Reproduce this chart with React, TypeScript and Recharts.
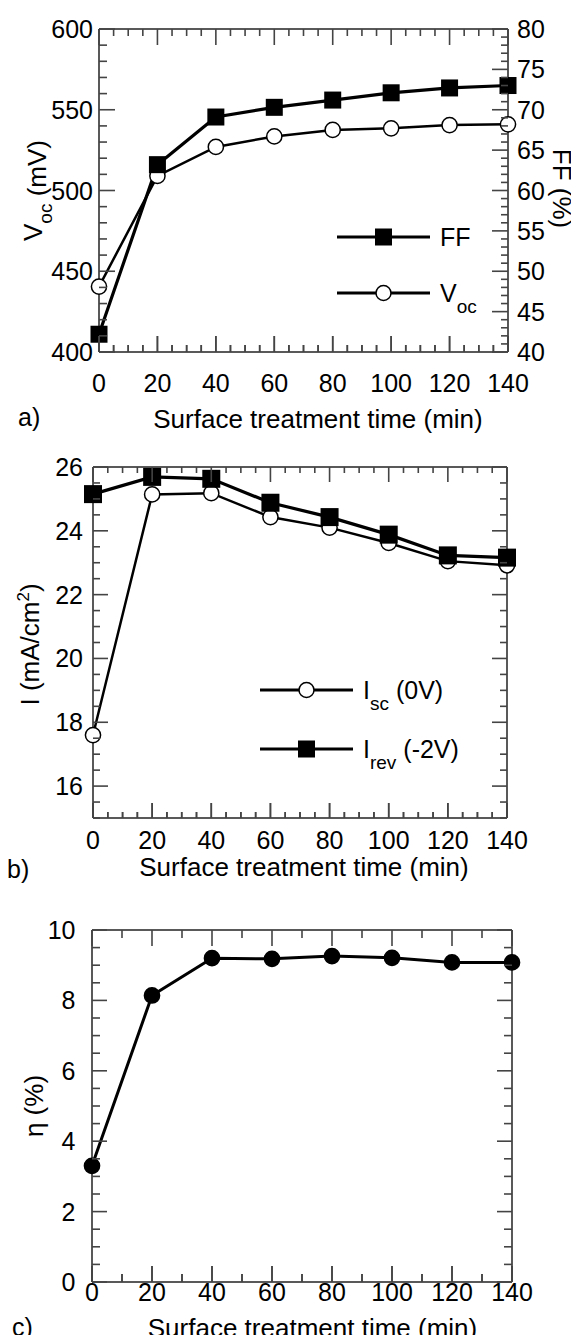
import React from 'react';
import { LineChart, Line, XAxis, YAxis, Legend } from 'recharts';

const FONT = '"Liberation Sans", Arial, Helvetica, sans-serif';
const TICK_FS = 25;
const TITLE_FS = 26;
const AXIS_COLOR = '#222';
const TICK_COLOR = '#444';

// ---------- data ----------
const times = [0, 20, 40, 60, 80, 100, 120, 140];
const vocMv = [440.5, 509, 527, 533.5, 537.5, 538.5, 540.5, 541];
const ffPct = [42.2, 63.2, 69.1, 70.3, 71.2, 72.1, 72.7, 73.0];
const iscCurrent = [17.6, 25.14, 25.18, 24.43, 24.1, 23.62, 23.05, 22.92];
const irevCurrent = [25.15, 25.69, 25.63, 24.88, 24.43, 23.88, 23.23, 23.16];
const etaPct = [3.3, 8.14, 9.2, 9.18, 9.26, 9.21, 9.08, 9.08];

// ---------- ticks ----------
const range = (a: number, b: number, s: number) => {
  const r: number[] = [];
  for (let v = a; v <= b + 1e-9; v += s) r.push(Math.round(v * 100) / 100);
  return r;
};
const xTicksFine = range(0, 140, 5);
const xTicksCoarse = range(0, 140, 10);
const vocTicks = range(400, 600, 10);
const ffTicks = range(40, 80, 1);
const currentTicks = range(15, 26, 0.5);
const etaTicks = range(0, 10, 0.5);

const dataA = times.map((t, i) => ({ t, voc: vocMv[i], ff: ffPct[i] }));
const dataB = times.map((t, i) => ({ t, isc: iscCurrent[i], irev: irevCurrent[i] }));
const dataC = times.map((t, i) => ({ t, eta: etaPct[i] }));

const AX = 1;

// side: which axis; mirror: distance to the opposite (bottom) frame edge, for top axes
function makeTick(side: string, major: number, majorLen: number, minorLen: number, showLabel: boolean, off: number, mirror = 0) {
  return function TickMark(props: any) {
    const x = Number(props.x);
    const y = Number(props.y);
    const v = Number(props.payload.value);
    const ratio = v / major;
    const isMajor = Math.abs(ratio - Math.round(ratio)) < 1e-6;
    const len = isMajor ? majorLen : minorLen;
    let x2 = x;
    let y2 = y;
    if (side === 'bottom') y2 = y - len;
    else if (side === 'top') y2 = y + len;
    else if (side === 'left') x2 = x + len;
    else x2 = x - len;
    let label: any = null;
    if (showLabel && isMajor) {
      if (side === 'bottom')
        label = <text x={x} y={y + off} textAnchor="middle" fontSize={TICK_FS} fontFamily={FONT} fill="#000">{v}</text>;
      else if (side === 'left')
        label = <text x={x - off} y={y + 9} textAnchor="end" fontSize={TICK_FS} fontFamily={FONT} fill="#000">{v}</text>;
      else if (side === 'right')
        label = <text x={x + off} y={y + 9} textAnchor="start" fontSize={TICK_FS} fontFamily={FONT} fill="#000">{v}</text>;
    }
    return (
      <g>
        <line x1={x} y1={y} x2={x2} y2={y2} stroke={TICK_COLOR} strokeWidth={1.6} />
        {mirror > 0 ? (
          <line x1={x} y1={y + mirror} x2={x} y2={y + mirror - len} stroke={TICK_COLOR} strokeWidth={1.6} />
        ) : null}
        {label}
      </g>
    );
  };
}

const axisLine = { stroke: AXIS_COLOR, strokeWidth: 1.5 };

const squareDot = (size: number) => (p: any) => (
  <rect key={`sq-${p.index}`} x={p.cx - size / 2} y={p.cy - size / 2} width={size} height={size} fill="#000" />
);
const circleDot = (r: number, fill: string) => (p: any) => (
  <circle key={`ci-${p.index}`} cx={p.cx} cy={p.cy} r={r} fill={fill} stroke="#000" strokeWidth={1.5} />
);

// plot geometry of each panel (chart-local coordinates)
const PA = { left: 99, right: 508, top: 29, bottom: 352, w: 579, h: 450 };
const PB = { left: 93, right: 507, top: 17, bottom: 368, w: 579, h: 445 };
const PC = { left: 92, right: 512, top: 35, bottom: 387, w: 579, h: 448 };

const xTitle = (P: any, dx: number, dy: number, letter: string, letterX: number, letterDy: number) => () => (
  <g>
    <text x={(P.left + P.right) / 2 + dx} y={P.bottom + dy} textAnchor="middle" fontSize={TITLE_FS} fontFamily={FONT} fill="#000">
      Surface treatment time (min)
    </text>
    <text x={letterX} y={P.bottom + letterDy} fontSize={TICK_FS} fontFamily={FONT} fill="#000">
      {letter}
    </text>
  </g>
);

const vocTitle = () => {
  const cx = 42;
  const cy = (PA.top + PA.bottom) / 2;
  return (
    <text transform={`rotate(-90 ${cx} ${cy})`} x={cx} y={cy} textAnchor="middle" fontSize={TITLE_FS} fontFamily={FONT} fill="#000">
      V<tspan fontSize={19} dy={10}>oc</tspan>
      <tspan dy={-6}> (mV)</tspan>
    </text>
  );
};

const ffTitle = () => {
  const cx = 553;
  const cy = (PA.top + PA.bottom) / 2 - 2;
  return (
    <text transform={`rotate(90 ${cx} ${cy})`} x={cx} y={cy} textAnchor="middle" fontSize={TITLE_FS} fontFamily={FONT} fill="#000">
      FF (%)
    </text>
  );
};

const currentTitle = () => {
  const cx = 39;
  const cy = (PB.top + PB.bottom) / 2 + 2;
  return (
    <text transform={`rotate(-90 ${cx} ${cy})`} x={cx} y={cy} textAnchor="middle" fontSize={TITLE_FS} fontFamily={FONT} fill="#000">
      I (mA/cm<tspan fontSize={17} dy={-10}>2</tspan>
      <tspan dy={10}>)</tspan>
    </text>
  );
};

const etaTitle = () => {
  const cx = 43;
  const cy = (PC.top + PC.bottom) / 2;
  return (
    <text transform={`rotate(-90 ${cx} ${cy})`} x={cx} y={cy} textAnchor="middle" fontSize={TITLE_FS} fontFamily={FONT} fill="#000">
      η (%)
    </text>
  );
};

const LegendRow = ({ marker, children, gap }: { marker: 'square' | 'circle'; children: any; gap: number }) => (
  <div style={{ display: 'flex', alignItems: 'center', height: 30, marginBottom: gap }}>
    <svg width={93} height={30} style={{ display: 'block', overflow: 'visible' }}>
      <line x1={0} y1={15} x2={93} y2={15} stroke="#000" strokeWidth={3} />
      {marker === 'square' ? (
        <rect x={38} y={6.5} width={17} height={17} fill="#000" />
      ) : (
        <circle cx={46.5} cy={15} r={7.5} fill="#fff" stroke="#000" strokeWidth={1.5} />
      )}
    </svg>
    <span style={{ marginLeft: 10, fontFamily: FONT, fontSize: 25, lineHeight: '30px', whiteSpace: 'nowrap', color: '#000' }}>
      {children}
    </span>
  </div>
);

const subStyle: React.CSSProperties = { fontSize: 19, verticalAlign: '-11px', lineHeight: 0 };

const LegendA = () => (
  <div>
    <LegendRow marker="square" gap={26}>FF</LegendRow>
    <LegendRow marker="circle" gap={0}>
      V<sub style={subStyle}>oc</sub>
    </LegendRow>
  </div>
);

const LegendB = () => (
  <div>
    <LegendRow marker="circle" gap={28.5}>
      I<sub style={subStyle}>sc</sub> (0V)
    </LegendRow>
    <LegendRow marker="square" gap={0}>
      I<sub style={subStyle}>rev</sub> (-2V)
    </LegendRow>
  </div>
);

const marginOf = (P: any) => ({
  top: P.top - AX,
  left: P.left - AX,
  right: P.w - P.right - AX,
  bottom: P.h - P.bottom - AX,
});

const ChartA = () => (
  <LineChart width={PA.w} height={PA.h} data={dataA} margin={marginOf(PA)}>
    <XAxis xAxisId="x" dataKey="t" type="number" domain={[0, 140]} ticks={xTicksFine} interval={0} height={AX}
      tickSize={0} tickMargin={0} tickLine={false} axisLine={axisLine}
      tick={makeTick('bottom', 20, 16, 7, true, 40)} label={xTitle(PA, 14.5, 76, 'a)', 18, 74)} />
    <XAxis xAxisId="top" orientation="top" dataKey="t" type="number" domain={[0, 140]} ticks={xTicksFine} interval={0} height={AX}
      tickSize={0} tickMargin={0} tickLine={false} axisLine={axisLine}
      tick={makeTick('top', 20, 16, 7, false, 0, PA.bottom - PA.top)} />
    <YAxis yAxisId="voc" dataKey="voc" type="number" domain={[400, 600]} ticks={vocTicks} interval={0} width={AX}
      tickSize={0} tickMargin={0} tickLine={false} axisLine={axisLine}
      tick={makeTick('left', 50, 16, 8, true, 6)} label={vocTitle} />
    <YAxis yAxisId="ff" dataKey="ff" orientation="right" type="number" domain={[40, 80]} ticks={ffTicks} interval={0} width={AX}
      tickSize={0} tickMargin={0} tickLine={false} axisLine={axisLine}
      tick={makeTick('right', 5, 16, 7, true, 9)} label={ffTitle} />
    <Line xAxisId="x" yAxisId="voc" type="linear" dataKey="voc" stroke="#000" strokeWidth={2.5}
      dot={circleDot(7.6, '#fff')} activeDot={false} isAnimationActive={false} />
    <Line xAxisId="x" yAxisId="ff" type="linear" dataKey="ff" stroke="#000" strokeWidth={3.2}
      dot={squareDot(17)} activeDot={false} isAnimationActive={false} />
    <Legend layout="vertical" align="center" verticalAlign="middle" content={() => <LegendA />}
      wrapperStyle={{ left: 337, top: 222, width: 180 }} />
  </LineChart>
);

const ChartB = () => (
  <LineChart width={PB.w} height={PB.h} data={dataB} margin={marginOf(PB)}>
    <XAxis xAxisId="x" dataKey="t" type="number" domain={[0, 140]} ticks={xTicksFine} interval={0} height={AX}
      tickSize={0} tickMargin={0} tickLine={false} axisLine={axisLine}
      tick={makeTick('bottom', 20, 15, 6, true, 31)} label={xTitle(PB, 4, 58, 'b)', 7, 60)} />
    <XAxis xAxisId="top" orientation="top" dataKey="t" type="number" domain={[0, 140]} ticks={xTicksFine} interval={0} height={AX}
      tickSize={0} tickMargin={0} tickLine={false} axisLine={axisLine}
      tick={makeTick('top', 20, 15, 6, false, 0, PB.bottom - PB.top)} />
    <YAxis yAxisId="i" dataKey="isc" type="number" domain={[15, 26]} ticks={currentTicks} interval={0} width={AX}
      tickSize={0} tickMargin={0} tickLine={false} axisLine={axisLine}
      tick={makeTick('left', 2, 15, 7, true, 10)} label={currentTitle} />
    <YAxis yAxisId="iR" dataKey="irev" orientation="right" type="number" domain={[15, 26]} ticks={currentTicks} interval={0} width={AX}
      tickSize={0} tickMargin={0} tickLine={false} axisLine={axisLine}
      tick={makeTick('right', 2, 15, 7, false, 0)} />
    <Line xAxisId="x" yAxisId="i" type="linear" dataKey="isc" stroke="#000" strokeWidth={2.5}
      dot={circleDot(7.6, '#fff')} activeDot={false} isAnimationActive={false} />
    <Line xAxisId="x" yAxisId="i" type="linear" dataKey="irev" stroke="#000" strokeWidth={3.2}
      dot={squareDot(18)} activeDot={false} isAnimationActive={false} />
    <Legend layout="vertical" align="center" verticalAlign="middle" content={() => <LegendB />}
      wrapperStyle={{ left: 260, top: 225, width: 220 }} />
  </LineChart>
);

const ChartC = () => (
  <LineChart width={PC.w} height={PC.h} data={dataC} margin={marginOf(PC)}>
    <XAxis xAxisId="x" dataKey="t" type="number" domain={[0, 140]} ticks={xTicksCoarse} interval={0} height={AX}
      tickSize={0} tickMargin={0} tickLine={false} axisLine={axisLine}
      tick={makeTick('bottom', 20, 16, 8, true, 19)} label={xTitle(PC, 10.5, 55, 'c)', 12, 53.5)} />
    <XAxis xAxisId="top" orientation="top" dataKey="t" type="number" domain={[0, 140]} ticks={xTicksCoarse} interval={0} height={AX}
      tickSize={0} tickMargin={0} tickLine={false} axisLine={axisLine}
      tick={makeTick('top', 20, 16, 8, false, 0, PC.bottom - PC.top)} />
    <YAxis yAxisId="eta" dataKey="eta" type="number" domain={[0, 10]} ticks={etaTicks} interval={0} width={AX}
      tickSize={0} tickMargin={0} tickLine={false} axisLine={axisLine}
      tick={makeTick('left', 2, 15, 8, true, 16.5)} label={etaTitle} />
    <YAxis yAxisId="etaR" dataKey="eta" orientation="right" type="number" domain={[0, 10]} ticks={etaTicks} interval={0} width={AX}
      tickSize={0} tickMargin={0} tickLine={false} axisLine={axisLine}
      tick={makeTick('right', 2, 15, 8, false, 0)} />
    <Line xAxisId="x" yAxisId="eta" type="linear" dataKey="eta" stroke="#000" strokeWidth={3}
      dot={circleDot(7.6, '#000')} activeDot={false} isAnimationActive={false} />
  </LineChart>
);

export default function App() {
  return (
    <div style={{ margin: '-8px 0 -8px -8px', width: 579, height: 1343, background: '#fff' }}>
      <ChartA />
      <ChartB />
      <ChartC />
    </div>
  );
}
